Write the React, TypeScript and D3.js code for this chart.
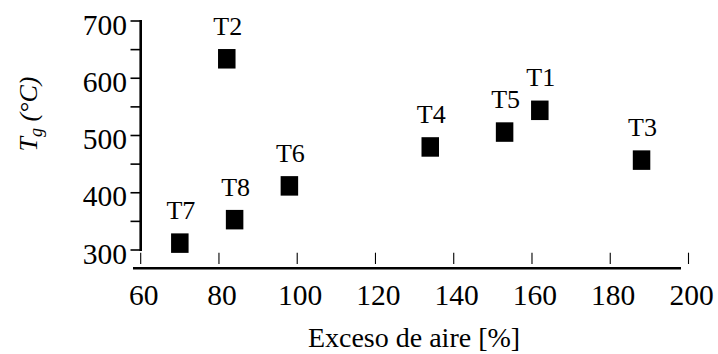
import React from "react";
import * as d3 from "d3";

const labels = ["T1", "T2", "T3", "T4", "T5", "T6", "T7", "T8"];
const excesoAire = [162, 82, 188, 134, 153, 98, 70, 84];
const tempGas = [544, 634, 457, 480, 506, 412, 312, 353];
const xTicks = [60, 80, 100, 120, 140, 160, 180, 200];
const yTicks = [300, 400, 500, 600, 700];
const yMinorTicks = [350, 450, 550, 650];

const W = 718;
const H = 354;
const FONT = "Liberation Serif";

export default function App() {
  const x = d3.scaleLinear().domain([60, 200]).range([140.7, 688.5]);
  const y = d3.scaleLinear().domain([300, 700]).range([250, 21]);
  const xAxisY = 268.3;
  const sqW = 17.5;
  const sqH = 19.5;
  const ts = { fontFamily: FONT };

  return (
    <svg width={W} height={H} style={{ position: "absolute", left: 0, top: 0, background: "#fff" }}>
      {/* Y axis */}
      <line x1={x(60)} x2={x(60)} y1={y(700) - 1} y2={y(300) + 1} stroke="#000" strokeWidth={2.6} />
      {yTicks.map((t) => (
        <g key={"yt" + t}>
          <line x1={130.5} x2={x(60)} y1={y(t)} y2={y(t)} stroke="#000" strokeWidth={1.6} />
          <text x={127} y={y(t) + 13.5} textAnchor="end" fontSize={29.5} style={ts}>
            {t}
          </text>
        </g>
      ))}
      {yMinorTicks.map((t) => (
        <line key={"ym" + t} x1={130.5} x2={x(60)} y1={y(t)} y2={y(t)} stroke="#000" strokeWidth={1.6} />
      ))}

      {/* X axis */}
      <line x1={133} x2={681} y1={xAxisY} y2={xAxisY} stroke="#000" strokeWidth={2.4} />
      {xTicks.map((t) => (
        <g key={"xt" + t}>
          <line x1={x(t)} x2={x(t)} y1={252.7} y2={264} stroke="#000" strokeWidth={1.1} />
          <text x={x(t) + 3} y={305} textAnchor="middle" fontSize={29.5} style={ts}>
            {t}
          </text>
        </g>
      ))}

      {/* Axis titles */}
      <text x={414} y={347} textAnchor="middle" fontSize={28} style={ts}>
        Exceso de aire [%]
      </text>
      <text
        transform={`translate(37,114) rotate(-90)`}
        textAnchor="middle"
        fontSize={26}
        fontStyle="italic"
        style={ts}
      >
        T<tspan fontSize={18} dy={5}>g</tspan>
        <tspan dy={-5}> (°C)</tspan>
      </text>

      {/* Points */}
      {labels.map((lab, i) => {
        const cx = x(excesoAire[i]);
        const cy = y(tempGas[i]);
        return (
          <g key={lab}>
            <rect x={cx - sqW / 2} y={cy - sqH / 2} width={sqW} height={sqH} fill="#000" />
            <text x={cx + 1} y={cy - 24} textAnchor="middle" fontSize={26} style={ts}>
              {lab}
            </text>
          </g>
        );
      })}
    </svg>
  );
}
